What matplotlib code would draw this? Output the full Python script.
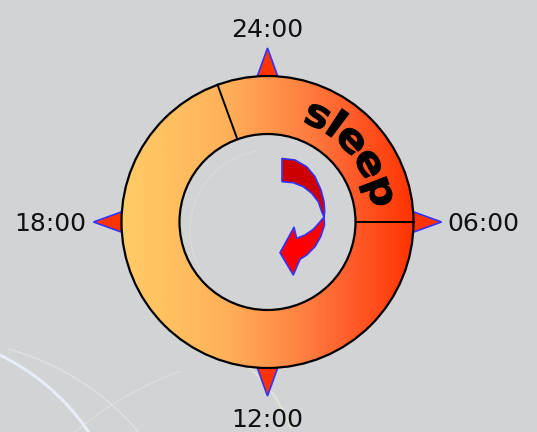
import numpy as np
import matplotlib.pyplot as plt
from matplotlib.patches import Circle, Polygon, Wedge, PathPatch, Arc
from matplotlib.path import Path
from matplotlib.textpath import TextPath
from matplotlib.font_manager import FontProperties
from matplotlib.colors import LinearSegmentedColormap

# clock data (24h dial, 24:00 on top, running clockwise)
hour_marks = [0, 6, 12, 18]
hour_labels = ['24:00', '06:00', '12:00', '18:00']
label_dist = [194, 216, 196, 217]      # distance of each label from the centre (px)
sleep_start = 22 + 40 / 60
sleep_end = 6
sleep_label = 'sleep'

# geometry in pixels
cx, cy = 267.5, 222
R_out, R_in = 146, 88


def clock_angle(h):
    return np.deg2rad(90 - h * 15)


def pt(r, a):
    # y axis is inverted (pixel coords)
    return cx + r * np.cos(a), cy - r * np.sin(a)


fig = plt.figure(figsize=(5.37, 4.32), dpi=100)
fig.patch.set_facecolor('#d2d3d5')
ax = fig.add_axes([0, 0, 1, 1])
ax.set_facecolor('#d2d3d5')

# faint background swirls
for (x0, y0, w, a1, a2, col, lw, al) in [
        (-100, 560, 456, 280, 340, '#eaf1fb', 2.2, 0.9),
        (-60, 600, 520, 285, 330, '#f4f6fa', 1.0, 0.4),
        (300, 700, 700, 200, 250, '#f2efe2', 1.0, 0.35),
        (150, 480, 300, 300, 340, '#f6f1d8', 1.4, 0.5),
        (200, -250, 700, 230, 290, '#f2f0e6', 0.8, 0.35),
        (270, 230, 160, 150, 260, '#eeeadc', 0.8, 0.35)]:
    ax.add_patch(Arc((x0, y0), w, w, theta1=a1, theta2=a2, color=col, lw=lw, alpha=al, zorder=0))

# triangles at the hour marks
for h in hour_marks:
    a = clock_angle(h)
    ux, uy = np.cos(a), -np.sin(a)
    vx, vy = -uy, ux
    bx, by = pt(R_out - 1, a)
    tip = pt(R_out + 28, a)
    tri = [(bx + 10.5 * vx, by + 10.5 * vy), (bx - 10.5 * vx, by - 10.5 * vy), tip]
    ax.add_patch(Polygon(tri, closed=True, facecolor='#ff3300', edgecolor='#3333ff', lw=1.2, zorder=2))

# hour labels
for h, lab, d in zip(hour_marks, hour_labels, label_dist):
    x, y = pt(d, clock_angle(h))
    ax.text(x, y + 2, lab, ha='center', va='center', fontsize=18, color='#111111',
            family='DejaVu Sans', zorder=5)

# ring with horizontal gradient
ring = Wedge((cx, cy), R_out, 0, 360, width=R_out - R_in, facecolor='none', edgecolor='none')
ax.add_patch(ring)
cmap = LinearSegmentedColormap.from_list('ring', [
    (0.0, '#ffcc66'), (0.35, '#ffb25a'), (0.6, '#ff8444'), (0.8, '#ff5a28'), (1.0, '#ff3300')])
grad = np.linspace(0, 1, 512).reshape(1, -1)
im = ax.imshow(grad, cmap=cmap, extent=(cx - R_out, cx + R_out, cy + R_out, cy - R_out),
               aspect='auto', zorder=3, interpolation='bilinear')
im.set_clip_path(ring)
ax.add_patch(Circle((cx, cy), R_out, facecolor='none', edgecolor='black', lw=1.6, zorder=4))
ax.add_patch(Circle((cx, cy), R_in, facecolor='none', edgecolor='black', lw=1.6, zorder=4))

# sleep segment boundaries
for h in [sleep_start, sleep_end]:
    a = clock_angle(h)
    x0, y0 = pt(R_in, a)
    x1, y1 = pt(R_out, a)
    ax.plot([x0, x1], [y0, y1], color='black', lw=1.4, zorder=4)

# "sleep" bent along the arc
fs_px = 39
tp = TextPath((0, 0), sleep_label, size=fs_px, prop=FontProperties(family='DejaVu Sans', weight='bold'))
ext = tp.get_extents()
mid_h = (sleep_start - 24 + sleep_end) / 2 + 1.05
a_mid = clock_angle(mid_h)
r_base = 106
verts = tp.vertices.copy()
theta = a_mid - (verts[:, 0] - (ext.x0 + ext.x1) / 2) / r_base
rad = r_base + verts[:, 1]
new = np.column_stack([cx + rad * np.cos(theta), cy - rad * np.sin(theta)])
ax.add_patch(PathPatch(Path(new, tp.codes), facecolor='black', edgecolor='black', lw=0.6, zorder=5))

# curved arrow in the middle (icon outline, offsets from the ring centre)
back = [(14.5, -63.5), (27.5, -62), (39.2, -55.3), (47.5, -45.3), (53.5, -32), (56.5, -20.3),
        (57.2, -10), (56.5, -5), (54.2, -10.3), (50.8, -20.3), (44.2, -28.7), (35.8, -35.3),
        (25.8, -39.3), (14.5, -40.3)]
front = [(56.5, -5), (57, 3), (53.2, 14.7), (47.5, 24.7), (39.2, 33), (32.5, 37.3),
         (25.8, 53), (12.5, 30.7), (26.5, 5.3), (29.2, 16.3), (37.5, 13), (45.8, 7.3),
         (51.8, 0.7)]
ax.add_patch(Polygon([(cx + x, cy + y) for x, y in back], closed=True, facecolor='#cc0000',
                     edgecolor='#3333ff', lw=1.2, zorder=6, joinstyle='round'))
ax.add_patch(Polygon([(cx + x, cy + y) for x, y in front], closed=True, facecolor='#ff0000',
                     edgecolor='#3333ff', lw=1.2, zorder=6, joinstyle='round'))

ax.set_xlim(0, 537)
ax.set_ylim(432, 0)
ax.axis('off')
fig.savefig('out.png', dpi=100, facecolor=fig.get_facecolor())
